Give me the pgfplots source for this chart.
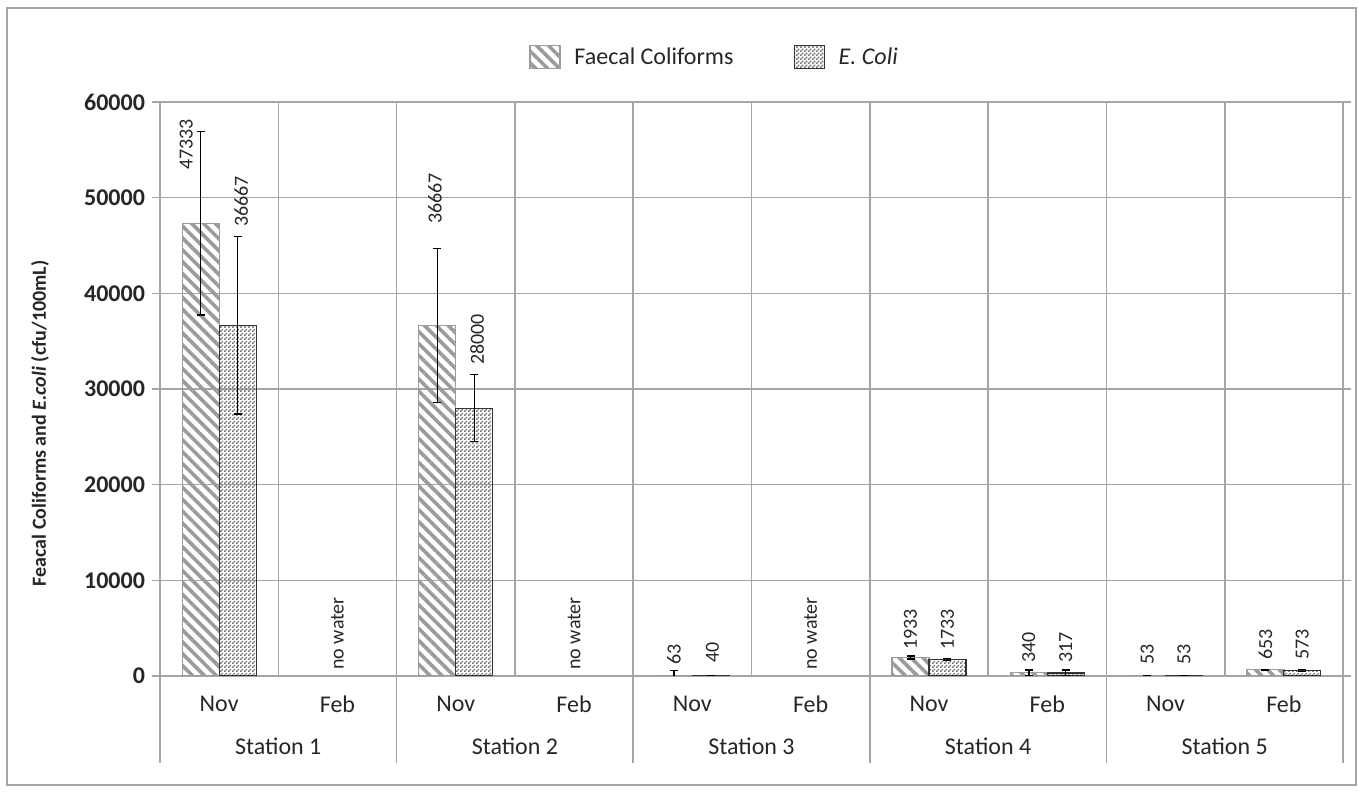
\documentclass[border=0pt]{standalone}
\usepackage{fontspec}
\setmainfont{Carlito}
\usepackage{pgfplots}
\usepackage{pgfplotstable}
\pgfplotsset{compat=1.18}
\usetikzlibrary{patterns,patterns.meta}

\definecolor{gridgray}{RGB}{166,166,166}
\definecolor{stripegray}{RGB}{155,155,155}
\definecolor{checkgray}{RGB}{115,115,115}
\definecolor{textdark}{RGB}{38,38,38}

% small checkerboard for E. coli bars
\tikzdeclarepattern{
  name=checker,
  type=uncolored,
  bounding box={(0bp,0bp) and (2bp,2bp)},
  tile size={(2bp,2bp)},
  code={
    \pgfpathrectangle{\pgfpointorigin}{\pgfpoint{1bp}{1bp}}
    \pgfpathrectangle{\pgfpoint{1bp}{1bp}}{\pgfpoint{1bp}{1bp}}
    \pgfusepath{fill}
  }
}

\pgfplotsset{
  patch legend/.style={
    legend image code/.code={\draw[##1] (0bp,-5.75bp) rectangle (15bp,5.75bp);}},
  bar errors/.style={
    error bars/.cd, y dir=both, y explicit,
    error bar style={black, line width=0.7bp},
    error mark options={rotate=90, black, line width=0.7bp, mark size=2bp}},
}

% x: 0..9 = Nov/Feb for stations 1..5, bars at -/+ 0.156 from the category
\pgfplotstableread{
x y e
-0.156 47333 9600
1.844 36667 8050
3.844 63 500
5.844 1933 150
6.844 340 300
7.844 53 0
8.844 653 50
}\faecal
\pgfplotstableread{
x y e
0.156 36667 9300
2.156 28000 3500
4.156 40 0
6.156 1733 100
7.156 317 300
8.156 53 0
9.156 573 100
}\ecoli
% data labels: x, y where the label starts, text
\pgfplotstableread{
x y label
-0.279 52890 47333
0.186 46930 36667
1 627 {no water}
1.825 47245 36667
2.18 32507 28000
3 627 {no water}
3.844 1150 63
4.17 1360 40
5 627 {no water}
5.844 2720 1933
6.156 2720 1733
6.844 1360 340
7.156 1360 317
7.844 1150 53
8.156 1150 53
8.844 1670 653
9.156 1670 573
}\labels

\begin{document}
\begin{tikzpicture}
\begin{axis}[
    at={(80bp,58bp)}, anchor=south west,
    scale only axis, width=591.5bp, height=287bp,
    xmin=-0.5, xmax=9.5, ymin=0, ymax=60000,
    clip mode=individual,
    xtick={0,...,9},
    xticklabels={Nov,Feb,Nov,Feb,Nov,Feb,Nov,Feb,Nov,Feb},
    minor xtick={-0.5,0.5,...,9.5},
    ytick={0,10000,...,60000},
    xminorgrids, ymajorgrids,
    grid style={gridgray, line width=0.8bp},
    minor grid style={gridgray, line width=0.8bp},
    axis line style={gridgray, line width=0.8bp},
    tick align=outside,
    major tick length=4bp, minor tick length=0pt,
    xtick style={draw=none},
    ytick style={gridgray, line width=0.8bp},
    scaled y ticks=false,
    yticklabel style={/pgf/number format/1000 sep={},
        /pgf/number format/assume math mode=true,
        font=\fontsize{12bp}{14bp}\selectfont\bfseries, text=textdark},
    xticklabel style={font=\fontsize{12bp}{14bp}\selectfont, text=textdark, yshift=-2.5bp},
    ylabel={\bfseries Feacal Coliforms and \textit{E.coli} (cfu/100mL)},
    ylabel style={at={(axis description cs:-0.1014,0.44)}, anchor=center,
        font=\fontsize{10bp}{12bp}\selectfont, text=textdark},
    legend columns=2,
    legend cell align=left,
    legend style={at={(axis description cs:0.4696,1.078)}, anchor=center,
        draw=none, fill=none, inner sep=0pt,
        font=\fontsize{12bp}{14bp}\selectfont, text=textdark,
        /tikz/every odd column/.append style={column sep=5bp},
        /tikz/every even column/.append style={column sep=28bp}},
]
\addplot[ybar, bar width=18.5bp, bar shift=0pt,
    draw=stripegray, line width=0.6bp,
    pattern={Lines[angle=-45,distance=4.2bp,line width=1.8bp]},
    pattern color=stripegray, patch legend, bar errors]
    table[x=x, y=y, y error=e] {\faecal};
\addlegendentry{Faecal Coliforms}
\addplot[ybar, bar width=18.5bp, bar shift=0pt,
    draw=black!80, line width=0.6bp,
    pattern=checker, pattern color=checkgray, patch legend, bar errors]
    table[x=x, y=y, y error=e] {\ecoli};
\addlegendentry{\textit{E. Coli}}
\addplot[draw=none, mark=none, forget plot,
    nodes near coords, point meta=explicit symbolic,
    every node near coord/.append style={rotate=90, anchor=west, inner sep=0pt,
        font=\fontsize{10bp}{12bp}\selectfont, text=textdark}]
    table[x=x, y=y, meta=label] {\labels};
% station separators below the axis
\pgfplotsinvokeforeach{-0.5,1.5,3.5,5.5,7.5,9.5}{
    \draw[gridgray, line width=0.8bp] (axis cs:#1,0) -- ([yshift=-43.5bp]axis cs:#1,0);
}
\node[anchor=base, font=\fontsize{12bp}{14bp}\selectfont, text=textdark, yshift=-39bp] at (axis cs:0.5,0) {Station 1};
\node[anchor=base, font=\fontsize{12bp}{14bp}\selectfont, text=textdark, yshift=-39bp] at (axis cs:2.5,0) {Station 2};
\node[anchor=base, font=\fontsize{12bp}{14bp}\selectfont, text=textdark, yshift=-39bp] at (axis cs:4.5,0) {Station 3};
\node[anchor=base, font=\fontsize{12bp}{14bp}\selectfont, text=textdark, yshift=-39bp] at (axis cs:6.5,0) {Station 4};
\node[anchor=base, font=\fontsize{12bp}{14bp}\selectfont, text=textdark, yshift=-39bp] at (axis cs:8.5,0) {Station 5};
\end{axis}
\draw[gridgray, line width=0.75bp] (3.5bp,3.5bp) rectangle (678bp,392bp);
\pgfresetboundingbox
\path (0,0) rectangle (679bp,396bp);
\end{tikzpicture}
\end{document}
